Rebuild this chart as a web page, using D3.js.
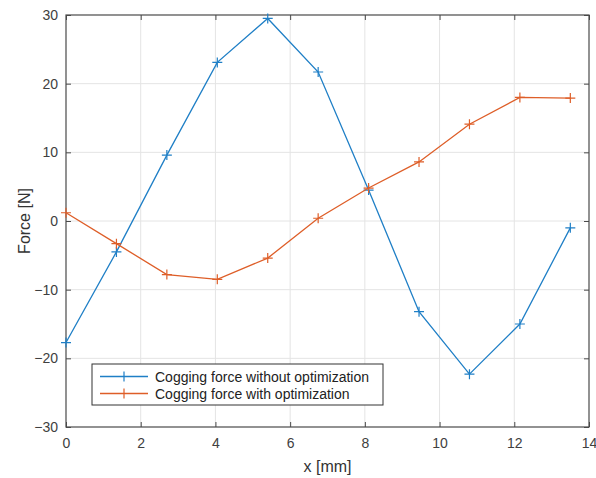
<!DOCTYPE html>
<html>
<head>
<meta charset="utf-8">
<script src="https://cdn.jsdelivr.net/npm/d3@7"></script>
<style>
  html, body { margin: 0; padding: 0; background: #fff; }
  svg { display: block; font-family: "Liberation Sans", Arial, Helvetica, sans-serif; }
</style>
</head>
<body>
<svg id="chart" width="596" height="478"></svg>
<script>
// Sample positions along the mover [mm]
const positions = [0, 1.35, 2.7, 4.05, 5.4, 6.75, 8.1, 9.45, 10.8, 12.15, 13.5];
// Cogging force [N]
const forceWithout = [-17.7, -4.5, 9.6, 23.1, 29.5, 21.7, 4.5, -13.2, -22.3, -15.0, -1.0];
const forceWith = [1.2, -3.3, -7.8, -8.5, -5.4, 0.4, 4.8, 8.6, 14.1, 18.0, 17.9];
const seriesNames = ["Cogging force without optimization", "Cogging force with optimization"];
const xTicks = [0, 2, 4, 6, 8, 10, 12, 14];
const yTicks = [-30, -20, -10, 0, 10, 20, 30];

const colors = ["#1f7fc6", "#de5e28"];
const axisColor = "#4a4a4a";
const gridColor = "#e4e4e4";

const svg = d3.select("#chart");
const m = { left: 66, right: 589, top: 15, bottom: 427 };

const x = d3.scaleLinear().domain([0, 14]).range([m.left, m.right]);
const y = d3.scaleLinear().domain([-30, 30]).range([m.bottom, m.top]);

// grid
const grid = svg.append("g");
grid.selectAll("line.gx").data(xTicks.slice(1, -1)).join("line")
  .attr("x1", d => x(d)).attr("x2", d => x(d))
  .attr("y1", m.top).attr("y2", m.bottom)
  .attr("stroke", gridColor).attr("stroke-width", 1);
grid.selectAll("line.gy").data(yTicks.slice(1, -1)).join("line")
  .attr("x1", m.left).attr("x2", m.right)
  .attr("y1", d => y(d)).attr("y2", d => y(d))
  .attr("stroke", gridColor).attr("stroke-width", 1);

// axes with inward ticks on all four sides
const tickLen = 5;
const styleAxis = g => {
  g.select(".domain").remove();
  g.selectAll(".tick line").attr("stroke", axisColor);
  g.selectAll(".tick text").attr("fill", "#404040").style("font-size", "14px");
};
svg.append("g").attr("transform", `translate(0,${m.bottom})`)
  .call(d3.axisBottom(x).tickValues(xTicks).tickSize(-tickLen).tickPadding(6 + tickLen).tickFormat(d3.format("d")))
  .call(styleAxis);
svg.append("g").attr("transform", `translate(0,${m.top})`)
  .call(d3.axisTop(x).tickValues(xTicks).tickSize(-tickLen).tickFormat(""))
  .call(styleAxis);
svg.append("g").attr("transform", `translate(${m.left},0)`)
  .call(d3.axisLeft(y).tickValues(yTicks).tickSize(-tickLen).tickPadding(3 + tickLen).tickFormat(d3.format("d")))
  .call(styleAxis);
svg.append("g").attr("transform", `translate(${m.right},0)`)
  .call(d3.axisRight(y).tickValues(yTicks).tickSize(-tickLen).tickFormat(""))
  .call(styleAxis);

// box
svg.append("rect")
  .attr("x", m.left).attr("y", m.top)
  .attr("width", m.right - m.left).attr("height", m.bottom - m.top)
  .attr("fill", "none").attr("stroke", axisColor).attr("stroke-width", 1.2);

// axis labels
svg.append("text").attr("x", (m.left + m.right) / 2).attr("y", 472)
  .attr("text-anchor", "middle").attr("fill", "#333").style("font-size", "16px")
  .text("x [mm]");
svg.append("text").attr("transform", `translate(30,${(m.top + m.bottom) / 2}) rotate(-90)`)
  .attr("text-anchor", "middle").attr("fill", "#333").style("font-size", "16px")
  .text("Force [N]");

// series
const line = d3.line().x(d => x(d[0])).y(d => y(d[1]));
const plus = (sel, cx, cy, color) => {
  const s = 5;
  sel.append("path")
    .attr("d", `M${cx - s},${cy}H${cx + s}M${cx},${cy - s}V${cy + s}`)
    .attr("stroke", color).attr("stroke-width", 1.2).attr("fill", "none");
};
[forceWithout, forceWith].forEach((vals, i) => {
  const pts = positions.map((p, j) => [p, vals[j]]);
  const g = svg.append("g");
  g.append("path").datum(pts).attr("d", line)
    .attr("fill", "none").attr("stroke", colors[i]).attr("stroke-width", 1.3);
  pts.forEach(d => plus(g, x(d[0]), y(d[1]), colors[i]));
});

// legend
const lg = svg.append("g").attr("transform", "translate(92,364)");
lg.append("rect").attr("width", 291).attr("height", 41)
  .attr("fill", "#fff").attr("stroke", "#333").attr("stroke-width", 1);
seriesNames.forEach((name, i) => {
  const cy = 12.5 + i * 17;
  lg.append("line").attr("x1", 8).attr("x2", 56).attr("y1", cy).attr("y2", cy)
    .attr("stroke", colors[i]).attr("stroke-width", 1.3);
  plus(lg, 32, cy, colors[i]);
  lg.append("text").attr("x", 63).attr("y", cy + 5)
    .attr("fill", "#222").style("font-size", "14px").text(name);
});
</script>
</body>
</html>
